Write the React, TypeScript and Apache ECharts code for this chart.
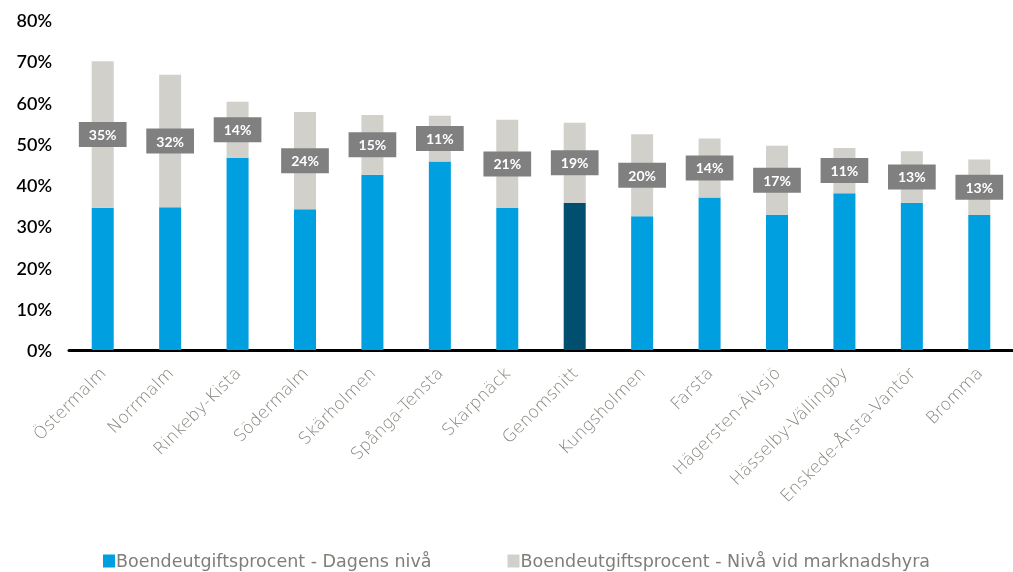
import React, { useEffect, useRef } from "react";
import * as echarts from "echarts";

const categories = [
  "Östermalm", "Norrmalm", "Rinkeby-Kista", "Södermalm", "Skärholmen", "Spånga-Tensta",
  "Skarpnäck", "Genomsnitt", "Kungsholmen", "Farsta", "Hägersten-Älvsjö",
  "Hässelby-Vällingby", "Enskede-Årsta-Vantör", "Bromma",
];
const dagensNiva = [34.5, 34.6, 46.6, 34.1, 42.5, 45.7, 34.4, 35.7, 32.4, 37.0, 32.8, 38.0, 35.7, 32.7];
const marknadsNiva = [70.0, 66.7, 60.2, 57.7, 57.0, 56.8, 55.8, 55.1, 52.3, 51.3, 49.5, 49.0, 48.2, 46.2];
const okningLabels = ["35%", "32%", "14%", "24%", "15%", "11%", "21%", "19%", "20%", "14%", "17%", "11%", "13%", "13%"];
const highlightCategory = "Genomsnitt";
const yTicks = { min: 0, max: 80, interval: 10 };

const BLUE = "#009FDF";
const DARK = "#004F6E";
const GRAY = "#D1D0CB";

export default function App() {
  const ref = useRef<HTMLDivElement>(null);
  useEffect(() => {
    const chart = echarts.init(ref.current!, null, { renderer: "svg" });
    const blueData = dagensNiva.map((v, i) =>
      categories[i] === highlightCategory ? { value: v, itemStyle: { color: DARK } } : v
    );
    const grayData = marknadsNiva.map((v, i) => +(v - dagensNiva[i]).toFixed(2));
    chart.setOption({
      animation: false,
      textStyle: { fontFamily: "'DejaVu Sans', sans-serif" },
      grid: { left: 69, top: 20, width: 953, height: 330, containLabel: false },
      legend: {
        top: 552,
        left: 103,
        itemGap: 76,
        itemWidth: 12,
        itemHeight: 13,
        padding: 0,
        icon: "rect",
        textStyle: { color: "#7f7f77", fontSize: 17.5, padding: [0, 0, 0, -4], fontFamily: "'DejaVu Sans', sans-serif" },
        data: ["Boendeutgiftsprocent - Dagens nivå", "Boendeutgiftsprocent - Nivå vid marknadshyra"],
      },
      xAxis: {
        type: "category",
        data: categories,
        axisLine: { lineStyle: { color: "#000", width: 3 } },
        axisTick: { show: false },
        axisLabel: {
          interval: 0,
          rotate: 45,
          margin: 20,
          color: "#85857d",
          fontSize: 17,
          fontWeight: 200,
          fontFamily: "'DejaVu Sans', sans-serif",
        },
      },
      yAxis: {
        type: "value",
        min: yTicks.min,
        max: yTicks.max,
        interval: yTicks.interval,
        splitLine: { show: false },
        axisLine: { show: false },
        axisTick: { show: false },
        axisLabel: {
          formatter: "{value}%",
          color: "#000",
          fontSize: 18,
          fontWeight: 600,
          margin: 17,
          fontFamily: "Lato, sans-serif",
        },
      },
      series: [
        {
          name: "Boendeutgiftsprocent - Dagens nivå",
          type: "bar",
          stack: "s",
          barWidth: 22,
          itemStyle: { color: BLUE },
          data: blueData,
        },
        {
          name: "Boendeutgiftsprocent - Nivå vid marknadshyra",
          type: "bar",
          stack: "s",
          barWidth: 22,
          itemStyle: { color: GRAY },
          data: grayData,
          label: {
            show: true,
            position: "inside",
            formatter: (p: any) => okningLabels[p.dataIndex],
            backgroundColor: "#808080",
            color: "#fff",
            fontSize: 14,
            fontWeight: "bold",
            fontFamily: "Lato, sans-serif",
            padding: [6, 10, 5, 10],
          },
        },
      ],
    });
    return () => chart.dispose();
  }, []);
  return <div ref={ref} style={{ position: "fixed", left: 0, top: 0, width: 1013, height: 572 }} />;
}
